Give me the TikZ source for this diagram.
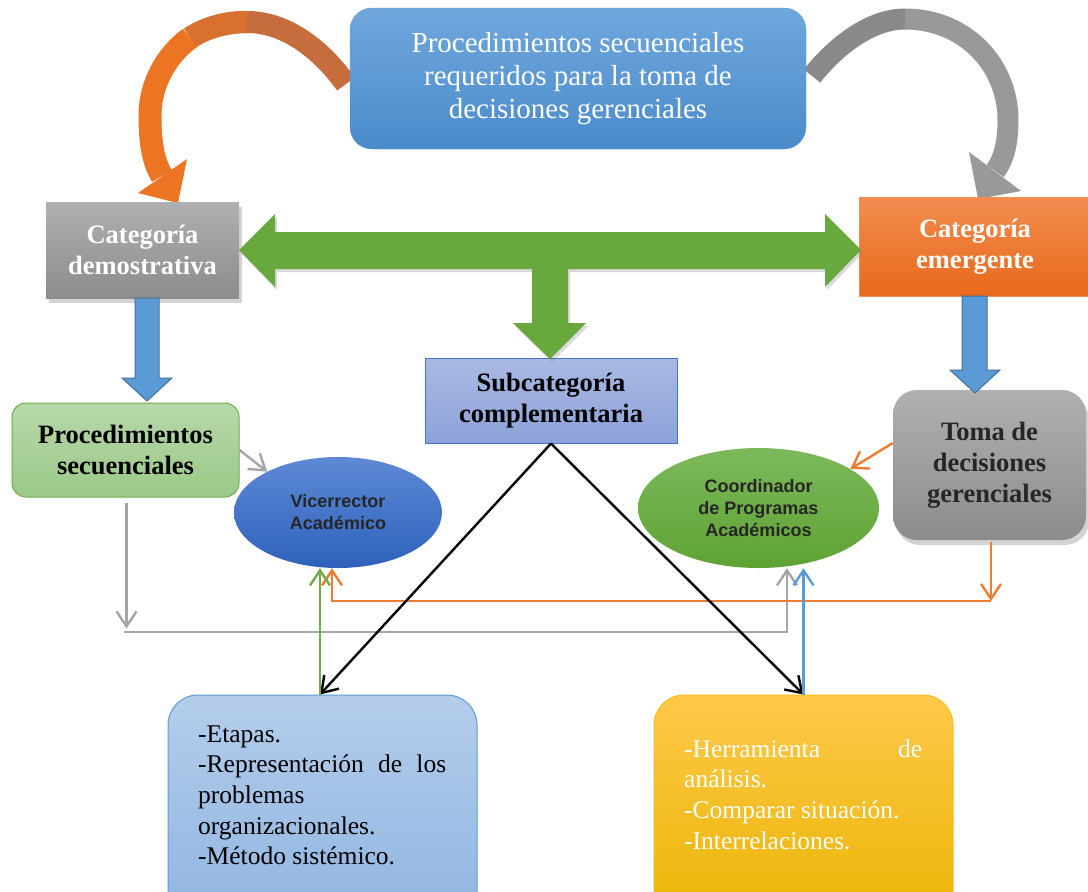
\documentclass[tikz,border=0pt]{standalone}
\usepackage{fontspec}
\setmainfont{Liberation Serif}
\newfontfamily\arialfont{Liberation Sans}
\usetikzlibrary{shapes.geometric,arrows.meta,shadows}

\definecolor{tituloA}{HTML}{70A7DD}
\definecolor{tituloB}{HTML}{4A8BCB}
\definecolor{grisA}{HTML}{B0B0B0}
\definecolor{grisB}{HTML}{8C8C8C}
\definecolor{naranjaA}{HTML}{F28D50}
\definecolor{naranjaB}{HTML}{E8691B}
\definecolor{verdeFlecha}{HTML}{68A83C}
\definecolor{azulFlecha}{HTML}{5B9BD5}
\definecolor{azulBorde}{HTML}{41719C}
\definecolor{lilaA}{HTML}{AAB9E3}
\definecolor{lilaB}{HTML}{8CA2D9}
\definecolor{lilaBorde}{HTML}{4472C4}
\definecolor{verdeA}{HTML}{B7D9A9}
\definecolor{verdeB}{HTML}{9BC889}
\definecolor{verdeBorde}{HTML}{70AD47}
\definecolor{vicA}{HTML}{5D8AD6}
\definecolor{vicB}{HTML}{2F61BC}
\definecolor{coorA}{HTML}{7CB95B}
\definecolor{coorB}{HTML}{5EA233}
\definecolor{celesteA}{HTML}{B4CDEB}
\definecolor{celesteB}{HTML}{8EB3E1}
\definecolor{oroA}{HTML}{FFC84A}
\definecolor{oroB}{HTML}{E9B400}
\definecolor{oroBorde}{HTML}{F5BE1E}
\definecolor{lineaGris}{HTML}{A5A5A5}
\definecolor{lineaNaranja}{HTML}{ED7D31}
\definecolor{curvaCafe}{HTML}{C56D3C}
\definecolor{curvaNaranja}{HTML}{EC7524}
\definecolor{curvaGris}{HTML}{999999}

\begin{document}
\begin{tikzpicture}[x=1pt,y=-1pt,
	caja/.style={rectangle,inner sep=0pt,align=center},
	negrita/.style={font=\fontsize{26.5}{31}\selectfont\bfseries},
	elipse/.style={ellipse,inner sep=0pt,align=center,font=\arialfont\fontsize{18}{22}\selectfont\bfseries,text=black!85},
	lista/.style={inner sep=0pt,anchor=base west,font=\fontsize{25.5}{30.7}\selectfont},
	punta/.style={-{Straight Barb[length=15pt,width=20pt,line width=2.4pt]}},
	fina/.style={line width=2.4pt},
	sombra/.style={drop shadow={shadow xshift=3pt,shadow yshift=-5pt,opacity=0.35}}
	]

\useasboundingbox (0,0) rectangle (1088,892);
\clip (0,0) rectangle (1088,892);

\draw[curvaCafe,line width=22pt] (346,84) .. controls (320,48) and (285,22) .. (247,22);
\draw[curvaCafe!50!curvaNaranja,line width=22.5pt] (247,22) .. controls (225,22) and (205,28) .. (190,38);
\draw[curvaNaranja,line width=23pt] (190,38) .. controls (166,55) and (150,85) .. (150,115) .. controls (150,138) and (152,160) .. (162,176);
\fill[curvaNaranja] (138,193) -- (187,159) -- (178,203) -- cycle;

\draw[curvaGris!90!black,line width=21pt] (812,76) .. controls (835,47) and (870,19) .. (905,19);
\draw[curvaGris,line width=21pt] (905,19) .. controls (965,19) and (1008,65) .. (1008,120) .. controls (1008,140) and (1005,158) .. (995,171);
\fill[curvaGris] (969,152) -- (1021,191) -- (978,199) -- cycle;

\node[caja,rounded corners=22pt,top color=tituloA,bottom color=tituloB,draw=tituloB!90,text=white,
	minimum width=456pt,minimum height=141pt,font=\fontsize{29}{33}\selectfont] (titulo) at (578,78.5)
	{Procedimientos secuenciales\\requeridos para la toma de\\decisiones gerenciales};

\node[caja,negrita,sombra,top color=grisA,bottom color=grisB,text=white,
	minimum width=193pt,minimum height=96pt] (catDem) at (142.5,250) {Categoría\\demostrativa};
\node[caja,negrita,top color=naranjaA,bottom color=naranjaB,draw=naranjaA,text=white,
	minimum width=232pt,minimum height=99pt] (catEme) at (975,246.5) {Categoría\\emergente};

\node[caja,negrita,top color=lilaA,bottom color=lilaB,draw=lilaBorde,line width=1pt,
	minimum width=252pt,minimum height=85pt] (subcat) at (551,400.5) {Subcategoría\\complementaria};

\node[caja,negrita,rounded corners=14pt,top color=verdeA,bottom color=verdeB,draw=verdeBorde,line width=1pt,
	minimum width=227pt,minimum height=94pt] (proc) at (125.5,450) {Procedimientos\\secuenciales};

\node[caja,negrita,sombra,rounded corners=24pt,top color=grisA,bottom color=grisB,text=black!85,
	minimum width=193pt,minimum height=150pt] (toma) at (989.5,465) {Toma de\\decisiones\\gerenciales};

\node[elipse,top color=vicA,bottom color=vicB,minimum width=208pt,minimum height=111pt] (vic) at (338,512.5)
	{Vicerrector\\Académico};
\node[elipse,top color=coorA,bottom color=coorB,minimum width=241pt,minimum height=120pt] (coor) at (758.5,508)
	{Coordinador\\de Programas\\Académicos};

\node[caja,rounded corners=30pt,top color=celesteA,bottom color=celesteB,draw=azulFlecha,line width=1pt,
	minimum width=309pt,minimum height=240pt] (etapas) at (322.5,815) {};
\node[caja,rounded corners=30pt,top color=oroA,bottom color=oroB,draw=oroBorde,line width=1pt,
	minimum width=299pt,minimum height=240pt] (herram) at (803.5,815) {};

\node[lista] (etapasTxt) at (198,742) {\parbox[t]{248pt}{-Etapas.\\-Representación de los\linebreak problemas\\organizacionales.\\-Método sistémico.}};
\node[lista,text=white] (herramTxt) at (684,757) {\parbox[t]{238pt}{-Herramienta de\linebreak análisis.\\-Comparar situación.\\-Interrelaciones.}};

\fill[verdeFlecha,drop shadow={shadow xshift=2pt,shadow yshift=-3pt,opacity=0.3}]
	(239,250) -- (275,214) -- (275,232) -- (825,232) -- (825,214) -- (861,250) -- (825,287) -- (825,269)
	-- (568,269) -- (568,323) -- (586,323) -- (550,359) -- (513,323) -- (532,323) -- (532,269)
	-- (275,269) -- (275,287) -- cycle;

\draw[azulBorde,fill=azulFlecha,line width=1pt] (135,298) -- (159,298) -- (159,378) -- (172,378) -- (147,401) -- (122,378) -- (135,378) -- cycle;
\draw[azulBorde,fill=azulFlecha,line width=1pt] (962,296) -- (987,296) -- (987,370) -- (1000,370) -- (975,393) -- (950,370) -- (962,370) -- cycle;

\coordinate (grisIzq) at (124,632);
\coordinate (grisDer) at (787,632);
\coordinate (naranjaDer) at (991,601);
\coordinate (naranjaIzq) at (332,601);
\coordinate (etapasTop) at ([xshift=-2.5pt]etapas.north);

\draw[lineaGris,fina,punta] (proc.east) -- (vic.150);
\draw[lineaGris,fina,punta] ([xshift=1pt,yshift=-5pt]proc.south) -- ++(0,126);
\draw[lineaGris,fina,punta] (grisIzq) -- (grisDer) -- (grisDer |- coor.south);

\draw[lineaNaranja,fina,punta] ([yshift=22pt]toma.west) -- (coor.23);
\draw[lineaNaranja,fina,punta] ([xshift=1.5pt,yshift=-2pt]toma.south) -- (naranjaDer);
\draw[lineaNaranja,fina,punta] (naranjaDer) -- (naranjaIzq) -- (naranjaIzq |- vic.south);

\draw[black,fina,punta] (subcat.south) -- (etapasTop);
\draw[black,fina,punta] (subcat.south) -- (herram.north);

\draw[verdeBorde,fina,punta] (etapasTop) -- (etapasTop |- vic.south);
\draw[azulFlecha,fina,punta] (herram.north) -- (herram.north |- coor.south);

\end{tikzpicture}
\end{document}
